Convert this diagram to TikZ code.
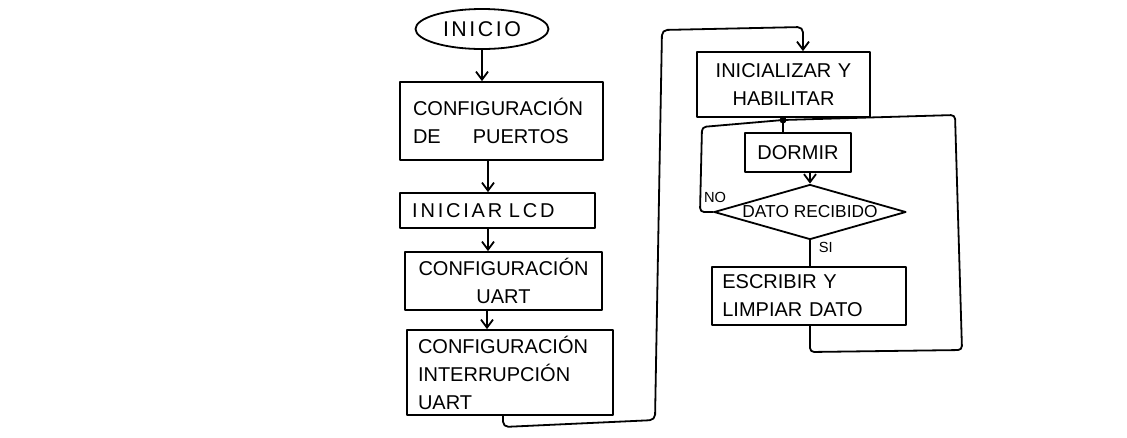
\documentclass[tikz,border=0pt]{standalone}
\usepackage{fontspec}
\setmainfont{Liberation Sans}
\usetikzlibrary{shapes.geometric,arrows.meta}
\begin{document}
\begin{tikzpicture}[x=0.75pt,y=-0.75pt,
  line width=1.35pt, line join=round, line cap=round,
  box/.style={draw,rectangle,inner sep=0pt,font=\fontsize{15}{21}\selectfont},
  arr/.style={-{Straight Barb[length=6pt,width=9pt]}},
  lbl/.style={font=\fontsize{11}{13}\selectfont,inner sep=0pt}]
\useasboundingbox (0,0) rectangle (1127,437);

% left column
\node[draw,ellipse,inner sep=0pt,minimum width=99.75pt,minimum height=30pt,
      font=\fontsize{16}{18}\selectfont\addfontfeature{LetterSpace=12}] (init) at (482,29) {INICIO};
\node[box,minimum width=152.25pt,minimum height=58.5pt,text width=132.75pt,align=left] (b1) at (501.5,121)
  {CONFIGURACIÓN\\DE\hspace{24pt}PUERTOS};
\node[box,minimum width=146.25pt,minimum height=26.25pt,text width=128pt,align=left,
      font=\fontsize{15}{21}\selectfont\addfontfeature{LetterSpace=14}] (b2) at (497.5,210.5) {INICIAR LCD};
\node[box,minimum width=147.75pt,minimum height=43.5pt,text width=135pt,align=center] (b3) at (503.5,281)
  {CONFIGURACIÓN\\UART};
\node[box,minimum width=154.5pt,minimum height=63.75pt,text width=138pt,align=left] (b4) at (510,372.5)
  {CONFIGURACIÓN\\INTERRUPCIÓN\\UART};

% right column
\node[box,minimum width=129.75pt,minimum height=48.75pt,text width=118pt,align=center] (b5) at (783.5,84.5)
  {INICIALIZAR Y\\HABILITAR};
\node[box,minimum width=79.5pt,minimum height=29.25pt] (dorm) at (798,152.5) {DORMIR};
\node[draw,diamond,aspect=3.5,inner sep=0pt,minimum width=144pt,minimum height=41.25pt,
      font=\fontsize{13}{15}\selectfont] (dec) at (810,212) {DATO RECIBIDO};
\node[box,minimum width=145.5pt,minimum height=43.5pt,text width=130pt,align=left] (esc) at (809,296)
  {ESCRIBIR Y\\LIMPIAR DATO};
\coordinate (dot) at (783,120);
\fill (dot) circle (2.6pt);

% left column arrows
\draw[arr] (init.south) -- (init.south |- b1.north);
\draw[arr] (b1.south -| 488,0) -- (b2.north -| 488,0);
\draw[arr] (b2.south -| 488,0) -- (b3.north -| 488,0);
\draw[arr] (b3.south -| 487,0) -- (b4.north -| 487,0);

% long connector to right column
\draw[arr,rounded corners=4pt] (b4.south -| 503,0) -- (503,427) -- (655,420) -- (662,30) -- (803,27) -- (b5.north -| 803,0);

% right column
\draw (b5.south -| dot) -- (dot) -- (dorm.north -| dot);
\draw[arr] (dorm.south -| dec.north) -- (dec.north);
\draw[rounded corners=3pt] (dec.west) -- (700,212) -- (702,127) -- (dot);
\node[lbl,anchor=south east] (no) at (727,204) {NO};
\draw (dec.south) -- (esc.north -| dec.south);
\node[lbl,anchor=north west] (si) at (818,241) {SI};
\draw[rounded corners=3pt] (esc.south -| dec.south) -- (810,352) -- (962,350) -- (955,115) -- (dot);
\end{tikzpicture}
\end{document}
